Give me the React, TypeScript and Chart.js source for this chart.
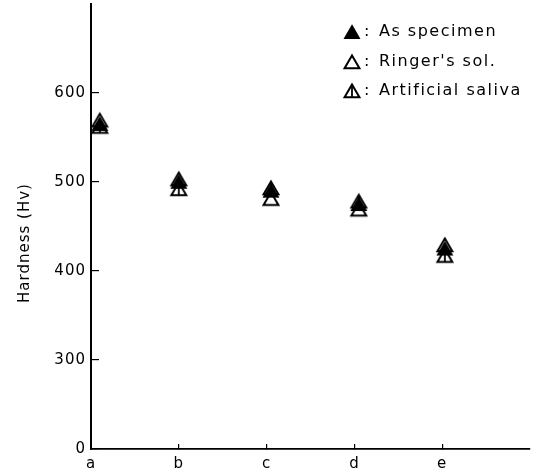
import React, { useEffect, useRef } from 'react';
import { Chart, registerables } from 'chart.js';

Chart.register(...registerables);

const categories = ['a', 'b', 'c', 'd', 'e'];
const xPositions = [0.1, 1.0, 2.05, 3.05, 4.03];
const asSpecimen = [563, 498, 488, 473, 423];
const ringers = [567, 501, 479, 467, 427];
const artificialSaliva = [560, 490, 491, 476, 415];
const seriesLabels = ['As specimen', "Ringer's sol.", 'Artificial saliva'];
const yTickValues = [200, 300, 400, 500, 600];
const yTickLabels = ['0', '300', '400', '500', '600'];
const xTickValues = [0, 1, 2, 3, 4];
const yTitle = 'Hardness (Hv)';

const FONT = '"DejaVu Sans", "Noto Sans", sans-serif';
const INK = '#000000';

type Kind = 'filled' | 'open' | 'bar';

function makeMarker(kind: Kind): HTMLCanvasElement {
  const c = document.createElement('canvas');
  c.width = 20;
  c.height = 26;
  const ctx = c.getContext('2d')!;
  const cx = 10;
  const cy = 13;
  const r = 8.6;
  const hw = r * Math.sin(Math.PI / 3);
  ctx.beginPath();
  ctx.moveTo(cx, cy - r);
  ctx.lineTo(cx + hw, cy + r / 2);
  ctx.lineTo(cx - hw, cy + r / 2);
  ctx.closePath();
  ctx.lineJoin = 'miter';
  if (kind === 'filled') {
    ctx.fillStyle = INK;
    ctx.fill();
    ctx.lineWidth = 1.2;
    ctx.strokeStyle = INK;
    ctx.stroke();
  } else {
    ctx.lineWidth = 2;
    ctx.strokeStyle = INK;
    ctx.stroke();
    if (kind === 'bar') {
      ctx.beginPath();
      ctx.moveTo(cx, cy - r + 1.5);
      ctx.lineTo(cx, cy + r / 2);
      ctx.lineWidth = 1.8;
      ctx.stroke();
    }
  }
  return c;
}

function zeroPadding(scale: any) {
  scale.paddingTop = 0;
  scale.paddingBottom = 0;
  scale.paddingLeft = 0;
  scale.paddingRight = 0;
}

export default function App() {
  const ref = useRef<HTMLCanvasElement | null>(null);

  useEffect(() => {
    if (!ref.current) return;
    const markers = [makeMarker('filled'), makeMarker('open'), makeMarker('bar')];
    const series = [asSpecimen, ringers, artificialSaliva];

    const legendPlugin = {
      id: 'customLegend',
      beforeDraw(chart: any) {
        (chart.ctx as any).letterSpacing = '1px';
      },
      afterDraw(chart: any) {
        const ctx = chart.ctx as CanvasRenderingContext2D;
        (ctx as any).letterSpacing = '0px';
        const rows = [32, 62, 91];
        ctx.save();
        ctx.font = `16px ${FONT}`;
        ctx.fillStyle = INK;
        ctx.textBaseline = 'middle';
        ctx.textAlign = 'left';
        (ctx as any).letterSpacing = '1.5px';
        rows.forEach((y, i) => {
          const m = markers[i];
          ctx.drawImage(m, 352 - m.width / 2, y + 2 - m.height / 2);
          ctx.fillText(':', 364, y);
          ctx.fillText(seriesLabels[i], 379, y);
        });
        ctx.restore();

        ctx.save();
        ctx.font = `15px ${FONT}`;
        ctx.fillStyle = INK;
        ctx.textAlign = 'center';
        ctx.textBaseline = 'middle';
        (ctx as any).letterSpacing = '1px';
        ctx.translate(25, 243);
        ctx.rotate(-Math.PI / 2);
        ctx.fillText(yTitle, 0, 0);
        ctx.restore();
        (ctx as any).letterSpacing = '0px';
      },
    };

    const chart = new Chart(ref.current, {
      type: 'scatter',
      data: {
        datasets: series.map((vals, i) => ({
          label: seriesLabels[i],
          data: vals.map((v, j) => ({ x: xPositions[j], y: v })),
          pointStyle: markers[i] as any,
          pointRadius: 9,
          backgroundColor: INK,
          borderColor: INK,
        })),
      },
      options: {
        animation: false,
        responsive: false,
        layout: { autoPadding: false, padding: { top: 4, right: 3, left: 0, bottom: 0 } },
        plugins: {
          legend: { display: false },
          tooltip: { enabled: false },
          title: { display: false },
        },
        scales: {
          x: {
            type: 'linear',
            min: 0,
            max: 5,
            afterBuildTicks: (scale: any) => {
              scale.ticks = xTickValues.map((v) => ({ value: v }));
            },
            afterFit: (scale: any) => {
              scale.height = 23;
              zeroPadding(scale);
            },
            ticks: {
              padding: 11,
              color: INK,
              font: { family: FONT, size: 15 },
              callback: (v: any) => {
                const idx = xTickValues.indexOf(Number(v));
                return idx >= 0 ? categories[idx] : '';
              },
              maxRotation: 0,
            },
            grid: {
              display: true,
              drawOnChartArea: false,
              drawTicks: true,
              tickLength: -5,
              color: INK,
              lineWidth: 1.2,
            },
            border: { display: true, color: INK, width: 1.8 },
          },
          y: {
            type: 'linear',
            min: 200,
            max: 700,
            afterBuildTicks: (scale: any) => {
              scale.ticks = yTickValues.map((v) => ({ value: v }));
            },
            afterFit: (scale: any) => {
              scale.width = 91;
              zeroPadding(scale);
            },
            ticks: {
              padding: 13,
              color: INK,
              font: { family: FONT, size: 15 },
              callback: (v: any) => {
                const idx = yTickValues.indexOf(Number(v));
                return idx >= 0 ? yTickLabels[idx] : '';
              },
            },
            grid: {
              display: true,
              drawOnChartArea: false,
              drawTicks: true,
              tickLength: -8,
              color: INK,
              lineWidth: 1.2,
            },
            border: { display: true, color: INK, width: 2 },
          },
        },
      },
      plugins: [legendPlugin],
    });

    return () => {
      chart.destroy();
    };
  }, []);

  return (
    <div style={{ position: 'fixed', left: 0, top: 0, width: 533, height: 472, background: '#ffffff' }}>
      <canvas ref={ref} width={533} height={472} style={{ display: 'block' }} />
    </div>
  );
}
